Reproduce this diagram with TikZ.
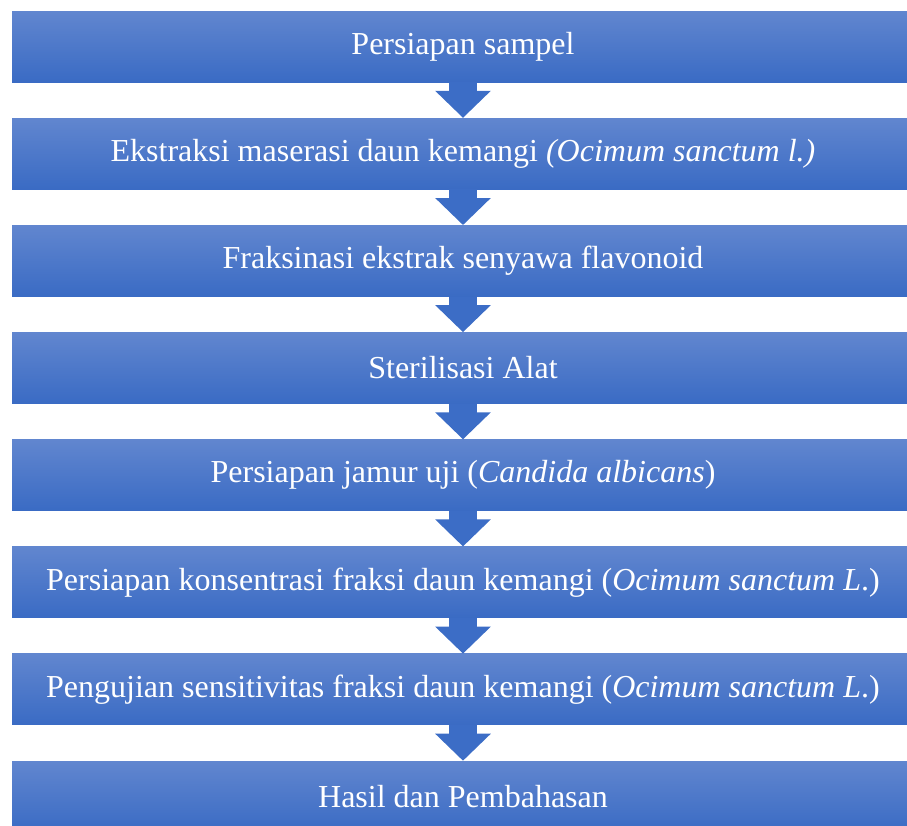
\documentclass[tikz,border=0pt]{standalone}
\usepackage{fontspec}
\setmainfont{Liberation Serif}
\usetikzlibrary{arrows.meta}
\definecolor{boxtop}{HTML}{6186CF}
\definecolor{boxbot}{HTML}{3A6BC4}
\definecolor{arrblue}{HTML}{3C6DC6}

\begin{document}
\begin{tikzpicture}[x=0.75pt,y=-0.75pt,
    stepbox/.style={rectangle,minimum width=676.5pt,minimum height=53.25pt,inner sep=0pt,
      top color=boxtop,bottom color=boxbot,text=white,font=\fontsize{24}{28}\selectfont},
    flow/.style={draw=arrblue,line width=20.5pt,
      -{Triangle[width=40.5pt,length=20.25pt]}}]
  \useasboundingbox (0,0) rectangle (907,825);
  \node[stepbox] (b1) at (463,46.5)  {Persiapan sampel};
  \node[stepbox] (b2) at (463,153.6) {Ekstraksi maserasi daun kemangi \textit{(Ocimum sanctum l.)}};
  \node[stepbox] (b3) at (463,260.8) {Fraksinasi ekstrak senyawa flavonoid};
  \node[stepbox] (b4) at (463,367.9) {Sterilisasi Alat};
  \node[stepbox] (b5) at (463,475.1) {Persiapan jamur uji (\textit{Candida albicans})};
  \node[stepbox] (b6) at (463,582.2) {Persiapan konsentrasi fraksi daun kemangi (\textit{Ocimum sanctum L}.)};
  \node[stepbox] (b7) at (463,689.4) {Pengujian sensitivitas fraksi daun kemangi (\textit{Ocimum sanctum L}.)};
  \node[stepbox] (b8) at (463,796.5) {Hasil dan Pembahasan};
  \foreach \i/\j in {1/2,2/3,3/4,4/5,5/6,6/7,7/8}
    \draw[flow] (b\i) -- (b\j);
\end{tikzpicture}
\end{document}
